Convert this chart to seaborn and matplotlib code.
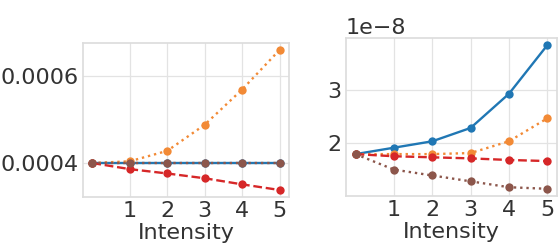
import matplotlib
matplotlib.use("Agg")
import matplotlib.pyplot as plt
import pandas as pd
import seaborn as sns
from matplotlib.ticker import FormatStrFormatter

intensity = [0, 1, 2, 3, 4, 5]

# left panel
left_blue = [0.0004, 0.0004, 0.0004, 0.0004, 0.0004, 0.0004]
left_orange = [0.0004, 0.000404, 0.000428, 0.000488, 0.000569, 0.00066]
left_red = [0.0004, 0.000386, 0.000376, 0.000365, 0.000351, 0.000338]
left_brown = [0.0004, 0.0004, 0.0004, 0.0004, 0.0004, 0.0004]

# right panel
right_blue = [1.80e-8, 1.92e-8, 2.04e-8, 2.29e-8, 2.93e-8, 3.84e-8]
right_orange = [1.80e-8, 1.80e-8, 1.80e-8, 1.82e-8, 2.04e-8, 2.47e-8]
right_red = [1.80e-8, 1.76e-8, 1.74e-8, 1.72e-8, 1.69e-8, 1.67e-8]
right_brown = [1.80e-8, 1.51e-8, 1.40e-8, 1.29e-8, 1.18e-8, 1.15e-8]

series = ["blue", "orange", "red", "brown"]
palette = {"blue": "#2077b4", "orange": "#f28a36", "red": "#d62728", "brown": "#8c564b"}
dashes = {"blue": "", "orange": (1, 1.65), "red": (3.7, 1.6), "brown": (1, 1.65)}


def to_long(cols):
    rows = []
    for name, vals in zip(series, cols):
        for x, v in zip(intensity, vals):
            rows.append({"Intensity": x, "value": v, "series": name})
    return pd.DataFrame(rows)


sns.set_theme(style="whitegrid")
plt.rcParams["font.family"] = ["DejaVu Sans"]

fs = 16
fig = plt.figure(figsize=(5.58, 2.5), dpi=100)
ax1 = fig.add_axes([0.1487, 0.212, 0.369, 0.616])
ax2 = fig.add_axes([0.620, 0.216, 0.378, 0.632])

for ax, cols in [(ax1, [left_blue, left_orange, left_red, left_brown]),
                 (ax2, [right_blue, right_orange, right_red, right_brown])]:
    sns.lineplot(data=to_long(cols), x="Intensity", y="value", hue="series",
                 style="series", palette=palette, dashes=dashes,
                 markers={s: "o" for s in series}, markersize=6,
                 markeredgewidth=0, linewidth=1.7, legend=False, ax=ax)
    ax.set_xticks([1, 2, 3, 4, 5])
    ax.set_ylabel("")
    ax.set_xlabel("Intensity", fontsize=fs, labelpad=1.5, color="#333333")
    ax.tick_params(axis="x", length=0, labelsize=fs, pad=3, labelcolor="#333333")
    ax.tick_params(axis="y", length=0, labelsize=fs, pad=3, labelcolor="#333333")
    for s in ax.spines.values():
        s.set_color("#dddddd")
    ax.grid(color="#e3e3e3", linewidth=0.9)

ax1.set_yticks([0.0004, 0.0006])
ax1.yaxis.set_major_formatter(FormatStrFormatter("%.4f"))
ax2.set_yticks([2e-8, 3e-8])
ax2.yaxis.get_offset_text().set_fontsize(fs)
ax2.yaxis.get_offset_text().set_color("#333333")

fig.savefig("out.png", dpi=100)
